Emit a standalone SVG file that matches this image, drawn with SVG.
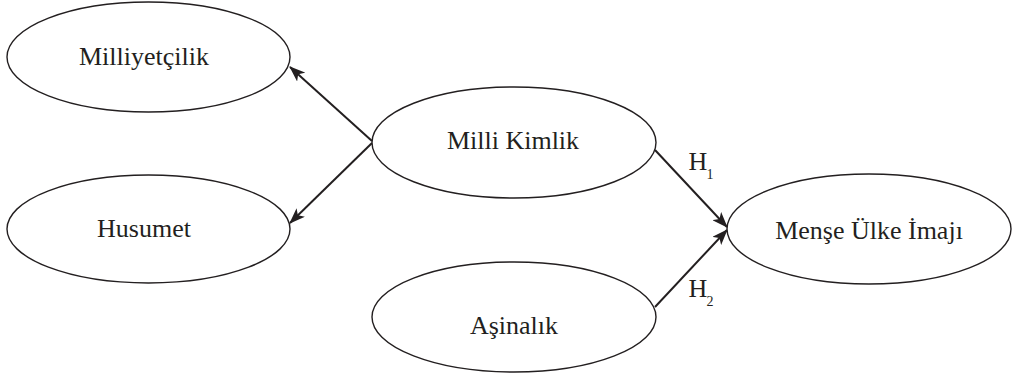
<svg xmlns="http://www.w3.org/2000/svg" width="1012" height="376" viewBox="0 0 1012 376">
<style>
.node ellipse{fill:#fff;stroke:#231f20;stroke-width:1.4}
.node text,.lbl{font-family:"Liberation Serif","Times New Roman",serif;font-size:26px;fill:#231f20;text-anchor:middle}
.edge{stroke:#231f20;stroke-width:2;fill:none;marker-end:url(#ah)}
.sub{font-size:14px}
</style>
<defs>
<marker id="ah" viewBox="0 0 16 12" refX="15" refY="6" markerWidth="16" markerHeight="12" markerUnits="userSpaceOnUse" orient="auto">
<path d="M0,0 L16,6 L0,12 L4,6 z" fill="#231f20"/>
</marker>
</defs>
<g id="connectors">
<line class="edge" x1="372" y1="141" x2="290" y2="67"/>
<line class="edge" x1="372" y1="143" x2="290" y2="223"/>
<line class="edge" x1="655" y1="150" x2="727" y2="227"/>
<line class="edge" x1="655" y1="307" x2="727" y2="230"/>
<text class="lbl" x="701" y="170">H<tspan class="sub" dx="-1" dy="9">1</tspan></text>
<text class="lbl" x="701" y="297">H<tspan class="sub" dx="-1" dy="9">2</tspan></text>
</g>
<g id="milliyetcilik" class="node">
<ellipse cx="148.5" cy="57" rx="141.5" ry="55"/>
<text x="144" y="65">Milliyetçilik</text>
</g>
<g id="husumet" class="node">
<ellipse cx="148.5" cy="229" rx="141.5" ry="54"/>
<text x="144" y="237">Husumet</text>
</g>
<g id="milli-kimlik" class="node">
<ellipse cx="514" cy="142.5" rx="142" ry="55.5"/>
<text x="513" y="149">Milli Kimlik</text>
</g>
<g id="mense-ulke-imaji" class="node">
<ellipse cx="869" cy="229" rx="142" ry="55"/>
<text x="869" y="239">Menşe Ülke İmajı</text>
</g>
<g id="asinalik" class="node">
<ellipse cx="514" cy="317" rx="142" ry="55"/>
<text x="514" y="334">Aşinalık</text>
</g>
</svg>
